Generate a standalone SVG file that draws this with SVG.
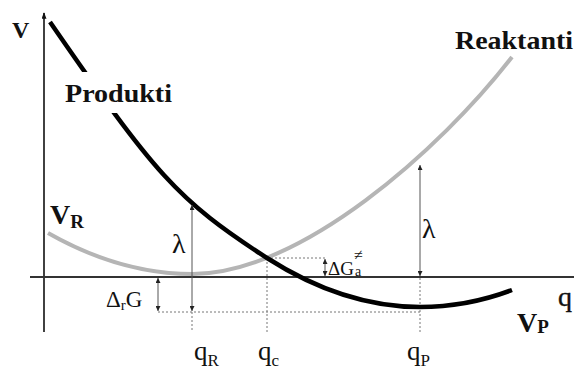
<svg xmlns="http://www.w3.org/2000/svg" width="574" height="369" viewBox="0 0 574 369">
<style>
.t{font-family:"Liberation Serif","DejaVu Serif",serif;fill:#111}
.b{font-weight:bold}
.dim{stroke:#555;stroke-width:1;fill:none}
.dot{stroke:#777;stroke-width:1;stroke-dasharray:2 2;fill:none}
</style>
<defs>
<marker id="ah" viewBox="0 0 6 6" refX="6" refY="3" markerWidth="5" markerHeight="5" markerUnits="userSpaceOnUse" orient="auto-start-reverse">
<path d="M0,0 L6,3 L0,6 z" fill="#222"/>
</marker>
<marker id="ax" viewBox="0 0 6 8" refX="3" refY="1" markerWidth="5" markerHeight="7" markerUnits="userSpaceOnUse" orient="0">
<path d="M0,8 L3,0 L6,8 z" fill="#111"/>
</marker>
</defs>
<rect width="574" height="369" fill="#fff"/>
<g id="axes">
<line x1="44" y1="332" x2="44" y2="13" stroke="#111" stroke-width="1.6" marker-end="url(#ax)"/>
<line x1="30" y1="277" x2="574" y2="277" stroke="#333" stroke-width="2"/>
</g>
<g id="guides">
<line class="dot" x1="158" y1="312" x2="420" y2="312"/>
<line class="dot" x1="192" y1="312" x2="192" y2="332"/>
<line class="dot" x1="267" y1="258" x2="267" y2="332"/>
<line class="dot" x1="420" y1="278" x2="420" y2="332"/>
<line class="dot" x1="267" y1="258" x2="325" y2="258"/>
</g>
<g id="curve-R">
<path d="M48,233 Q120,274 193,274 C300,274 440,150 512,57" fill="none" stroke="#b5b5b5" stroke-width="4"/>
</g>
<g id="curve-P">
<path d="M50,22 C155,174 177,200 267,258 Q343.6,307 420,307 Q467,307 512,290" fill="none" stroke="#000" stroke-width="4.5"/>
</g>
<g id="connectors">
<line class="dim" x1="192" y1="205" x2="192" y2="311" marker-start="url(#ah)" marker-end="url(#ah)"/>
<line class="dim" x1="158" y1="278" x2="158" y2="311" marker-start="url(#ah)" marker-end="url(#ah)"/>
<line class="dim" x1="420" y1="165" x2="420" y2="276" marker-start="url(#ah)" marker-end="url(#ah)"/>
<line class="dim" x1="325" y1="259" x2="325" y2="276" marker-start="url(#ah)" marker-end="url(#ah)"/>
</g>
<g id="label-V"><text class="t b" x="12" y="38" font-size="24">V</text></g>
<g id="label-Produkti">
<rect x="60" y="72" width="118" height="41" fill="#fff"/>
<text class="t b" x="65" y="102" font-size="25" textLength="107" lengthAdjust="spacingAndGlyphs">Produkti</text>
</g>
<g id="label-Reaktanti"><text class="t b" x="455" y="49" font-size="26" textLength="118" lengthAdjust="spacingAndGlyphs">Reaktanti</text></g>
<g id="label-VR"><text class="t b" x="50" y="224" font-size="28">V<tspan font-size="19" dy="4">R</tspan></text></g>
<g id="label-VP"><text class="t b" x="517" y="332" font-size="28">V<tspan font-size="19" dy="1">P</tspan></text></g>
<g id="label-q"><text class="t" x="558" y="306" font-size="28" stroke="#111" stroke-width="0.4">q</text></g>
<g id="label-lambda1"><text class="t" x="172" y="253" font-size="28">λ</text></g>
<g id="label-lambda2"><text class="t" x="422" y="238" font-size="28">λ</text></g>
<g id="label-drG"><text class="t" x="106" y="307" font-size="23">Δ<tspan font-size="15" dy="3">r</tspan><tspan dy="-3">G</tspan></text></g>
<g id="label-dGa"><text class="t" x="328" y="275" font-size="19">ΔG</text><text class="t" x="354" y="260" font-size="16">≠</text><text class="t" x="355" y="276" font-size="14">a</text></g>
<g id="label-qR"><text class="t" x="194" y="360" font-size="27">q<tspan font-size="17" dy="6">R</tspan></text></g>
<g id="label-qc"><text class="t" x="258" y="360" font-size="27">q<tspan font-size="17" dy="6">c</tspan></text></g>
<g id="label-qP"><text class="t" x="407" y="360" font-size="27">q<tspan font-size="17" dy="6">P</tspan></text></g>
</svg>
